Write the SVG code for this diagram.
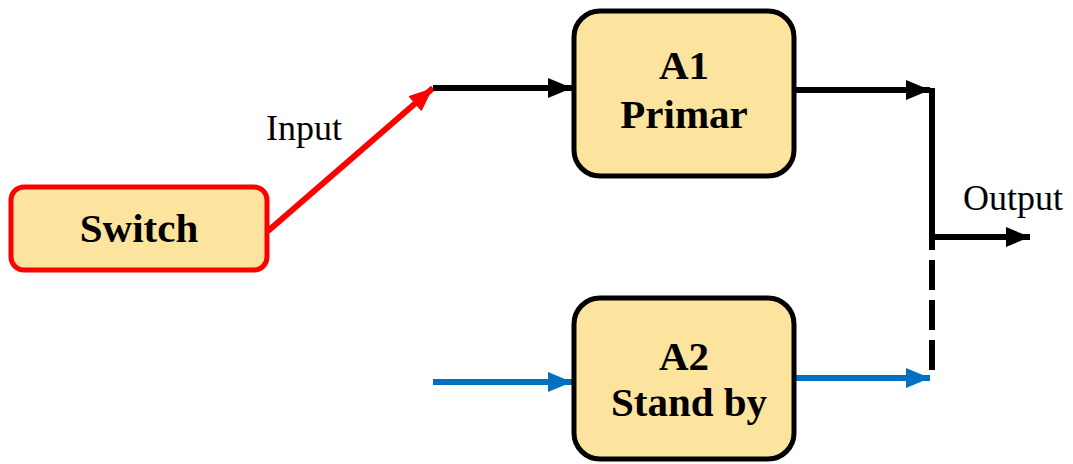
<svg xmlns="http://www.w3.org/2000/svg" width="1073" height="464" viewBox="0 0 1073 464">
  <style>
    .box { fill: #FDE49E; stroke: #000; stroke-width: 5; }
    .sw { stroke: #FF0000; }
    .title { font-family: "Liberation Serif", "Times New Roman", serif; font-weight: bold; font-size: 41px; fill: #000; text-anchor: middle; }
    .lbl { font-family: "Liberation Serif", "Times New Roman", serif; font-size: 36px; fill: #000; }
    .wire { fill: none; stroke-width: 6; }
  </style>
  <defs>
    <marker id="ahBlack" markerUnits="userSpaceOnUse" markerWidth="24" markerHeight="20" refX="24" refY="10" orient="auto">
      <path d="M0,0 L24,10 L0,20 Z" fill="#000"/>
    </marker>
    <marker id="ahRed" markerUnits="userSpaceOnUse" markerWidth="24" markerHeight="20" refX="24" refY="10" orient="auto">
      <path d="M0,0 L24,10 L0,20 Z" fill="#FF0000"/>
    </marker>
    <marker id="ahBlue" markerUnits="userSpaceOnUse" markerWidth="24" markerHeight="20" refX="24" refY="10" orient="auto">
      <path d="M0,0 L24,10 L0,20 Z" fill="#0070C0"/>
    </marker>
  </defs>

  <!-- connectors -->
  <g id="connectors">
    <line class="wire" x1="268" y1="231" x2="433" y2="88" stroke="#FF0000" marker-end="url(#ahRed)"/>
    <line class="wire" x1="433" y1="88" x2="572" y2="88" stroke="#000" marker-end="url(#ahBlack)"/>
    <line class="wire" x1="795" y1="90" x2="930" y2="90" stroke="#000" marker-end="url(#ahBlack)"/>
    <line class="wire" x1="932" y1="88" x2="932" y2="250" stroke="#000" stroke-width="7"/>
    <line class="wire" x1="932" y1="260" x2="932" y2="378" stroke="#000" stroke-width="7" stroke-dasharray="30 10"/>
    <line class="wire" x1="932" y1="237" x2="1030" y2="237" stroke="#000" marker-end="url(#ahBlack)"/>
    <line class="wire" x1="433" y1="382" x2="572" y2="382" stroke="#0070C0" marker-end="url(#ahBlue)"/>
    <line class="wire" x1="795" y1="378" x2="930" y2="378" stroke="#0070C0" marker-end="url(#ahBlue)"/>
    <text class="lbl" x="266" y="140">Input</text>
    <text class="lbl" x="963" y="210">Output</text>
  </g>

  <!-- switch node -->
  <g id="switch">
    <rect class="box sw" x="11" y="187" width="256" height="83" rx="13"/>
    <text class="title" x="139" y="242" font-size="40">Switch</text>
  </g>

  <!-- primary amplifier -->
  <g id="a1">
    <rect class="box" x="574" y="11" width="220" height="165" rx="26"/>
    <text class="title" x="684" y="79">A1</text>
    <text class="title" x="684" y="128">Primar</text>
  </g>

  <!-- standby amplifier -->
  <g id="a2">
    <rect class="box" x="574" y="298" width="220" height="161" rx="26"/>
    <text class="title" x="684" y="370">A2</text>
    <text class="title" x="689" y="416">Stand by</text>
  </g>
</svg>
